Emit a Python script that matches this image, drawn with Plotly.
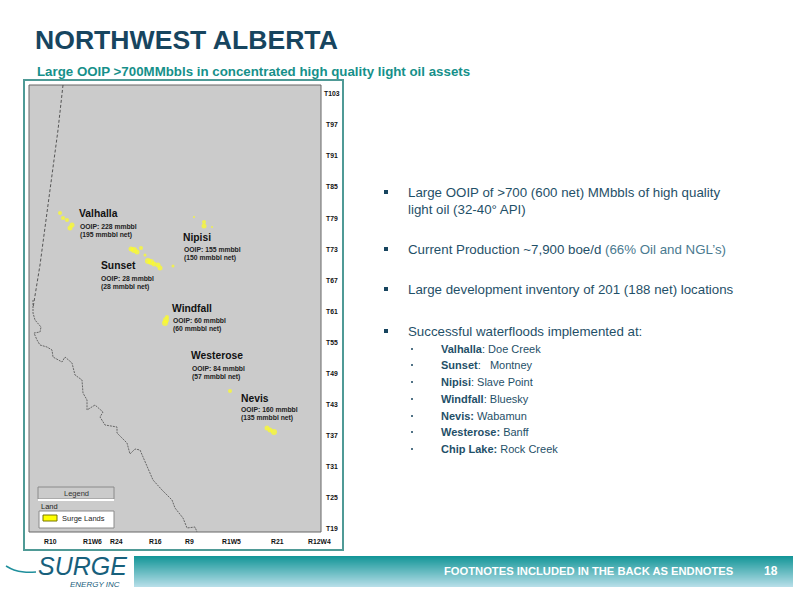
import plotly.graph_objects as go

FONT = "Liberation Sans"
NAVY = "#17455f"
TEAL = "#16908a"
BODY = "#1f5068"

township_labels = ["T103","T97","T91","T85","T79","T73","T67","T61","T55","T49","T43","T37","T31","T25","T19"]
township_y = [93,124,155,186,218,249,280,311,342,373,404,435,466,497,528]
range_labels = ["R10","R1W6","R24","R16","R9","R1W5","R21","R12W4"]
range_x = [50,92,116,155,189,231,277,319]

bc_x = [63,58,52,46,40,33]
bc_y = [85,130,175,220,265,308]
border_x = [33,33,35,41,40,34,37,40,47,52,53,62,65,72,75,82,83,87,87,95,103,100,105,117,117,127,130,135,140,148,153,162,172,175,183,187,195,197]
border_y = [300,313,320,327,332,333,340,345,347,350,357,362,357,363,375,380,393,400,410,405,412,417,425,427,433,443,454,449,450,468,480,490,500,508,518,528,527,532]

land_x = [60,63,67,72,70,204,204,194,212,131,134,137,141,145,148,151,154,158,160,173,165,166,167,230,267,270,274]
land_y = [213,218,220,225,228,222,226,217,227,249,250,252,248,255,261,262,264,265,268,266,323,320,317,391,428,430,432]
land_s = [4,4,4,5,5,4,5,2,2,5,6,5,4,3,6,6,5,5,5,3,6,6,4,4,5,5,6]

field_names = ["Valhalla","Nipisi","Sunset","Windfall","Westerose","Nevis"]
field_x = [79,183,101,172,191,241]
field_y = [213,237,265,308,355,398]
ooip_lines = [["OOIP: 228 mmbbl","(195 mmbbl net)"],["OOIP: 155 mmbbl","(150 mmbbl net)"],
              ["OOIP: 28 mmbbl","(28 mmbbl net)"],["OOIP: 60 mmbbl","(60 mmbbl net)"],
              ["OOIP: 84 mmbbl","(57 mmbbl net)"],["OOIP: 160 mmbbl","(135 mmbbl net)"]]
ooip_x = [80,184,101,173,192,241]
ooip_y = [226,249,278,320,368,409]

main_bullets = ["Large OOIP of >700 (600 net) MMbbls of high quality","light oil (32-40° API)",
                "Current Production ~7,900 boe/d <span style='color:#4a7a90'>(66% Oil and NGL’s)</span>",
                "Large development inventory of 201 (188 net) locations","Successful waterfloods implemented at:"]
main_y = [192,209,249,289,331]
marker_y = [192,249,289,331]
sub_bullets = ["<b>Valhalla</b>: Doe Creek","<b>Sunset</b>:   Montney","<b>Nipisi</b>: Slave Point",
               "<b>Windfall</b>: Bluesky","<b>Nevis:</b> Wabamun","<b>Westerose:</b> Banff","<b>Chip Lake:</b> Rock Creek"]
sub_y = [349,365,382,399,416,432,449]

swoosh_x = [6,14,24,36]
swoosh_y = [566,570,572,572]

fig = go.Figure()
shapes = []
def rect(x0,y0,x1,y1,fill,line=None,w=1):
    shapes.append(dict(type="rect",xref="x",yref="y",x0=x0,y0=y0,x1=x1,y1=y1,fillcolor=fill,
                       line=dict(color=line or "rgba(0,0,0,0)",width=w if line else 0),layer="below"))

rect(24,80,343,550,"white","#4f9a96",2)
rect(29,85,321,532,"#cbcbcb","#666666",1)
# legend
rect(38,487,114,499,"#cbcbcb","#8a8a8a",1)
rect(38,499,114,501,"white")
rect(39,511,114,528,"white","#8a8a8a",1)
rect(43,515,57,521,"#ffff00","#777700",1)

# footer gradient
top=(20,150,152); bot=(182,222,232)
n=31
for i in range(n):
    t=i/(n-1)
    c=tuple(round(top[k]+(bot[k]-top[k])*t) for k in range(3))
    rect(134,556+i,793,557+i,"rgb(%d,%d,%d)"%c)

fig.add_trace(go.Scatter(x=bc_x,y=bc_y,mode="lines",line=dict(color="#555555",width=1,dash="3px,2px"),hoverinfo="skip"))
fig.add_trace(go.Scatter(x=border_x,y=border_y,mode="lines",line=dict(color="#666666",width=1,dash="2px,1px"),hoverinfo="skip"))
fig.add_trace(go.Scatter(x=land_x,y=land_y,mode="markers",marker=dict(color="#ffff1e",size=land_s,line=dict(width=0)),hoverinfo="skip"))
fig.add_trace(go.Scatter(x=swoosh_x,y=swoosh_y,mode="lines",line=dict(color="#1f8f9c",width=1.5,shape="spline"),hoverinfo="skip"))
fig.add_trace(go.Scatter(x=[386]*len(marker_y),y=marker_y,mode="markers",marker=dict(symbol="square",color=NAVY,size=4),hoverinfo="skip"))
fig.add_trace(go.Scatter(x=[412]*len(sub_y),y=sub_y,mode="markers",marker=dict(symbol="circle",color=NAVY,size=2),hoverinfo="skip"))

ann=[]
def txt(x,y,s,size,color="#111111",anchor="left",family=FONT):
    x = x-1 if anchor=="left" else x
    ann.append(dict(x=x,y=y,xref="x",yref="y",text=s,showarrow=False,xanchor=anchor,yanchor="middle",
                    align=anchor,font=dict(family=family,size=size,color=color),borderpad=0))

txt(35,40,"<b>NORTHWEST ALBERTA</b>",26.6,NAVY)
txt(37,71,"<b>Large OOIP >700MMbbls in concentrated high quality light oil assets</b>",13.3,TEAL)
for s,y in zip(township_labels,township_y): txt(332,y,"<b>%s</b>"%s,6.8,"#111111","center")
for s,x in zip(range_labels,range_x): txt(x,541,"<b>%s</b>"%s,6.8,"#111111","center")
for s,x,y in zip(field_names,field_x,field_y): txt(x,y,"<b>%s</b>"%s,10.3,"#111111")
for l,x,y in zip(ooip_lines,ooip_x,ooip_y):
    txt(x,y,"<b>%s</b>"%l[0],6.8,"#222222")
    txt(x,y+8.5,"<b>%s</b>"%l[1],6.8,"#222222")
txt(76,493,"Legend",7.5,"#333333","center")
txt(41,506,"Land",7.5,"#222222")
txt(62,518,"Surge Lands",7.5,"#222222")
for s,y in zip(main_bullets,main_y): txt(408,y,s,13.3,BODY)
for s,y in zip(sub_bullets,sub_y): txt(441,y,s,11,BODY)
txt(444,571,"<b>FOOTNOTES INCLUDED IN THE BACK AS ENDNOTES</b>",11.2,"white")
txt(771,571,"<b>18</b>",12,"white","center")
txt(38,566,"<i>SURGE</i>",25,"#17607c")
txt(70,584,"<i>ENERGY INC</i>",8,"#17607c")

fig.update_layout(width=800,height=600,margin=dict(l=0,r=0,t=0,b=0),paper_bgcolor="white",plot_bgcolor="white",
                  showlegend=False,shapes=shapes,annotations=ann,hovermode=False,
                  xaxis=dict(range=[0,800],visible=False,fixedrange=True),
                  yaxis=dict(range=[600,0],visible=False,fixedrange=True))
fig.write_html("out.html",config={"displayModeBar":False},post_script="document.body.style.margin='0';document.body.style.overflow='hidden';")
